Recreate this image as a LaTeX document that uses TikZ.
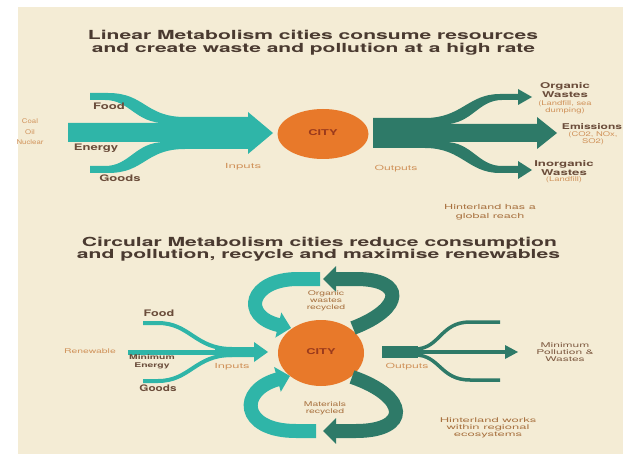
\documentclass[tikz,border=0pt]{standalone}
\usepackage{fontspec}
\setmainfont{TeX Gyre Heros}
\usepackage{graphicx}
\usetikzlibrary{arrows.meta,shapes.geometric}
\definecolor{bgc}{HTML}{F4ECD5}
\definecolor{tealc}{HTML}{2FB5A8}
\definecolor{greenc}{HTML}{2E7A68}
\definecolor{cityc}{HTML}{E8792A}
\definecolor{cityt}{HTML}{9A3A1C}
\definecolor{titlec}{HTML}{4A3A30}
\definecolor{labc}{HTML}{6A4C3A}
\definecolor{tinyc}{HTML}{D0925A}
\definecolor{midc}{HTML}{A8713F}
\newcommand{\wt}[2]{\scalebox{#1}[1]{\begin{tabular}{@{}c@{}}#2\end{tabular}}}
\newcommand{\fw}[2]{\resizebox{#1pt}{\height}{#2}}
\tikzset{
  ttl/.style={anchor=base, inner sep=0pt, text=titlec, font=\fontsize{12.5}{12.5}\selectfont\bfseries},
  lab/.style={inner sep=0pt, text=labc, font=\fontsize{9}{10}\selectfont\bfseries},
  olab/.style={inner sep=0pt, text=labc, font=\fontsize{8}{8.5}\selectfont\bfseries},
  tiny/.style={inner sep=0pt, text=tinyc, font=\fontsize{7}{7.5}\selectfont},
  mid/.style={inner sep=0pt, text=midc, font=\fontsize{6.5}{7}\selectfont},
  citynode/.style={ellipse, fill=cityc, inner sep=0pt, text=cityt, font=\fontsize{8}{8}\selectfont\bfseries},
  band/.style={line width=14pt},
  bighead/.style={-{Triangle[length=13pt,width=25pt]}}
}
\begin{document}
\begin{tikzpicture}[x=1pt,y=-1pt]
\useasboundingbox (0,0) rectangle (623,454);
\fill[white] (0,0) rectangle (623,454);
\fill[bgc] (18,7) rectangle (623,454);

% ---------- titles ----------
\node[ttl] (t1a) at (313,40) {\fw{450}{Linear Metabolism cities consume resources}};
\node[ttl] (t1b) at (313.5,52.5) {\fw{443}{and create waste and pollution at a high rate}};
\node[ttl] (t2a) at (319.5,246) {\fw{475}{Circular Metabolism cities reduce consumption}};
\node[ttl] (t2b) at (318.5,258.5) {\fw{483}{and pollution, recycle and maximise renewables}};

% ---------- linear: inputs ----------
\fill[tealc] (68,123) -- (165,123) .. controls (135,123) and (130,100) .. (105,100) -- (90,100) -- (90,93)
  -- (108,93) .. controls (145,93) and (145,117) .. (185,117) -- (248,117) -- (248,112) -- (273,133)
  -- (248,154) -- (248,149) -- (185,149) .. controls (145,149) and (145,173) .. (108,173) -- (90,173)
  -- (90,166) -- (105,166) .. controls (130,166) and (135,142) .. (165,142) -- (68,142) -- cycle;

\node[citynode, minimum width=91pt, minimum height=50pt] (city1) at (323,134) {\wt{1.6}{CITY}};

% ---------- linear: outputs ----------
\fill[greenc] (373,118) -- (425,118) .. controls (462,118) and (468,94) .. (500,94) -- (518,94) -- (518,89)
  -- (532,97) -- (518,105) -- (518,100) -- (502,100) .. controls (478,100) and (472,124) .. (445,124)
  -- (537,124) -- (537,117) -- (557,133) -- (537,149) -- (537,142) -- (445,142)
  .. controls (472,142) and (478,166) .. (502,166) -- (518,166) -- (518,161) -- (532,170) -- (518,179)
  -- (518,173) -- (500,173) .. controls (468,173) and (462,148) .. (425,148) -- (373,148) -- cycle;

% labels linear
\node[lab] (food1) at (109,108) {\wt{1.45}{Food}};
\node[lab] (energy1) at (96,149) {\wt{1.45}{Energy}};
\node[lab] (goods1) at (120,179.5) {\wt{1.45}{Goods}};
\node[tiny, font=\fontsize{6.5}{10.5}\selectfont] (coal) at (30,132) {\wt{1.2}{Coal\\Oil\\Nuclear}};
\node[tiny] (inputs1) at (243,167) {\wt{1.9}{Inputs}};
\node[tiny] (outputs1) at (396,169) {\wt{1.75}{Outputs}};
\node[olab] (org) at (565,91.5) {\wt{1.65}{Organic\\Wastes}};
\node[tiny, font=\fontsize{6.5}{7.5}\selectfont] (orgsub) at (565,107.5) {\wt{1.45}{(Landfill, sea\\dumping)}};
\node[olab] (emis) at (592,128) {\wt{1.5}{Emissions}};
\node[tiny, font=\fontsize{6.5}{7}\selectfont] (emsub) at (593,139) {\wt{1.45}{(CO2, NOx,\\SO2)}};
\node[olab] (inorg) at (564,169.5) {\wt{1.65}{Inorganic\\Wastes}};
\node[tiny, font=\fontsize{6.5}{7}\selectfont] (inorgsub) at (564,180) {\wt{1.45}{(Landfill)}};
\node[mid, font=\fontsize{7}{9}\selectfont] (hint1) at (490,212.5) {\wt{1.8}{Hinterland has a\\global reach}};

% ---------- circular ----------
\node[citynode, minimum width=86pt, minimum height=66pt] (city2) at (321,353) {\wt{1.6}{CITY}};

% recycle loops
\draw[tealc, band, bighead] (320,279) -- (298,279) .. controls (250,279) and (240,316) .. (291,328);
\draw[greenc, band, bighead] (353,328) .. controls (405,308) and (405,279) .. (356,279) -- (323,279);
\draw[tealc, band, bighead] (316,431) -- (296,431) .. controls (240,431) and (238,390) .. (290,376);
\draw[greenc, band, bighead] (352,377) .. controls (410,397) and (410,431) .. (356,431) -- (323,431);

% inputs
\draw[tealc, line width=4pt] (143,323) -- (158,323) .. controls (190,323) and (195,349) .. (232,349);
\draw[tealc, line width=4pt] (143,381) -- (158,381) .. controls (190,381) and (195,355) .. (232,355);
\draw[tealc, line width=5pt] (128,352) -- (254,352);
\fill[tealc] (215,347) -- (254,347) -- (254,342) -- (268,352) -- (254,362) -- (254,357) -- (215,357) -- cycle;

% outputs
\fill[greenc] (382,346) rectangle (418,358);
\draw[greenc, line width=3.5pt] (415,349) .. controls (440,349) and (440,322) .. (470,322) -- (500,322);
\draw[greenc, line width=3.5pt] (415,355) .. controls (440,355) and (440,380) .. (470,380) -- (500,380);
\draw[greenc, line width=3.5pt] (415,352) -- (506,352);
\fill[greenc] (505,345) -- (518,352) -- (505,359) -- cycle;

% labels circular
\node[lab] (food2) at (159,314) {\wt{1.4}{Food}};
\node[lab] (goods2) at (158,389) {\wt{1.3}{Goods}};
\node[tiny, font=\fontsize{6.5}{7}\selectfont] (renew) at (90,352) {\wt{1.6}{Renewable}};
\node[lab, font=\fontsize{6.5}{7.5}\selectfont\bfseries] (minen) at (152,362) {\wt{1.6}{Minimum\\Energy}};
\node[tiny] (inputs2) at (232,367) {\wt{1.85}{Inputs}};
\node[tiny] (outputs2) at (407,367) {\wt{1.75}{Outputs}};
\node[mid] (orgrec) at (326,301.5) {\wt{1.6}{Organic\\wastes\\recycled}};
\node[mid] (matrec) at (325,409) {\wt{1.6}{Materials\\recycled}};
\node[mid, text=labc!80!tinyc] (minpol) at (565,353) {\wt{1.85}{Minimum\\Pollution \&\\Wastes}};
\node[mid] (hint2) at (488,428.5) {\wt{2.0}{Hinterland works\\within regional\\ecosystems}};
\end{tikzpicture}
\end{document}
